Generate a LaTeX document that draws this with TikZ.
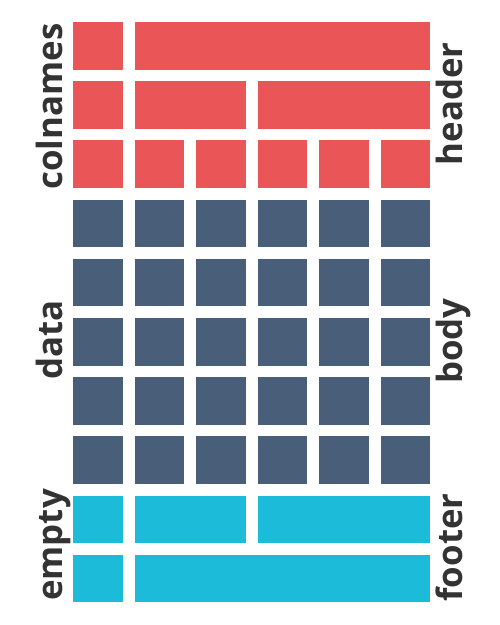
\documentclass[tikz,border=0pt]{standalone}
\usepackage{fontspec}
\setmainfont{Open Sans}
\definecolor{hdr}{HTML}{EA5557}
\definecolor{bdy}{HTML}{485E79}
\definecolor{ftr}{HTML}{1BBBD9}
\definecolor{lbl}{HTML}{333333}
\newcommand{\cellfill}[4]{%
  \fill[#4] ({73.3+61.5*#1},{22+59.2*#3}) rectangle ({73.3+61.5*#2+49.5},{22+59.2*#3+47.5});}
\begin{document}
\begin{tikzpicture}[x=1pt,y=-1pt,
  lab/.style={text=lbl,font=\fontsize{34.8}{37}\selectfont\bfseries,rotate=90,anchor=base,inner sep=0pt}]
\useasboundingbox (0,0) rectangle (500,625);
% header
\cellfill{0}{0}{0}{hdr}\cellfill{1}{5}{0}{hdr}
\cellfill{0}{0}{1}{hdr}\cellfill{1}{2}{1}{hdr}\cellfill{3}{5}{1}{hdr}
\foreach \c in {0,...,5} {\cellfill{\c}{\c}{2}{hdr}}
% body
\foreach \r in {3,...,7} {\foreach \c in {0,...,5} {\cellfill{\c}{\c}{\r}{bdy}}}
% footer
\cellfill{0}{0}{8}{ftr}\cellfill{1}{2}{8}{ftr}\cellfill{3}{5}{8}{ftr}
\cellfill{0}{0}{9}{ftr}\cellfill{1}{5}{9}{ftr}
% labels
\node[lab] (colnames) at (62,106.5) {colnames};
\node[lab] (data) at (62,340) {data};
\node[lab] (empty) at (62,545) {empty};
\node[lab] (header) at (462.3,104) {header};
\node[lab] (body) at (462.3,341) {body};
\node[lab] (footer) at (462.3,547.5) {footer};
\end{tikzpicture}
\end{document}
